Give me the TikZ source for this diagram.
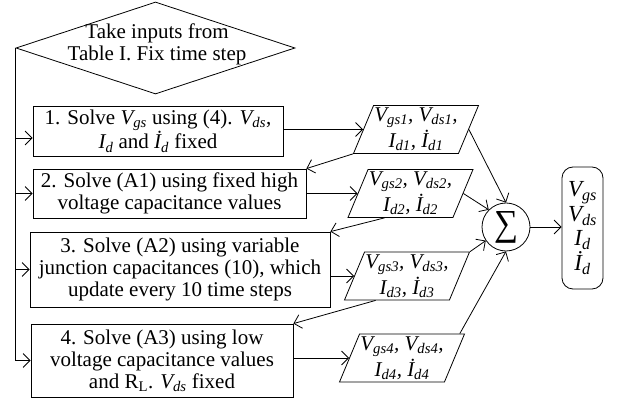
\documentclass[tikz,border=0pt]{standalone}
\usepackage{fontspec}
\setmainfont{Liberation Serif}
\usetikzlibrary{shapes.geometric,arrows.meta,calc}

\newcommand\sig[2]{\textit{#1\textsubscript{#2}}}

\begin{document}
\begin{tikzpicture}[x=1pt,y=-1pt,line width=0.8pt,
    >={Straight Barb[length=7pt,width=14pt]},
    every node/.style={font=\fontsize{21}{22}\selectfont},
    decision/.style={draw, diamond, inner sep=0pt, minimum width=279pt, minimum height=92pt},
    stepbox/.style={draw, rectangle, inner sep=0pt, align=center},
    data/.style={draw, trapezium, trapezium left angle=65, trapezium right angle=115,
        trapezium stretches body, inner sep=0pt, minimum width=125pt, minimum height=48pt,
        align=center, font=\fontsize{21}{26}\selectfont\itshape},
    result/.style={draw, rectangle, rounded corners=11pt, inner sep=0pt, align=center,
        minimum width=41pt, minimum height=122pt, font=\fontsize{23}{24.5}\selectfont\itshape}]
    \useasboundingbox (0,0) rectangle (625,403);

    % start
    \node[decision] (start) at (155.5,48) {};
    \node[align=center] (starttext) at (157,44) {Take inputs from\\Table I. Fix time step};

    % solver steps
    \node[stepbox, minimum width=250pt, minimum height=50pt] (b1) at (158,131)
        {1. Solve \sig{V}{gs} using (4). \sig{V}{ds},\\ \sig{I}{d} and \sig{\.I}{d} fixed};
    \node[stepbox, minimum width=273pt, minimum height=49pt] (b2) at (169.5,193.5)
        {2. Solve (A1) using fixed high\\ voltage capacitance values};
    \node[stepbox, minimum width=300pt, minimum height=75pt] (b3) at (180,269.5)
        {3. Solve (A2) using variable\\ junction capacitances (10), which\\ update every 10 time steps};
    \node[stepbox, minimum width=262pt, minimum height=73pt] (b4) at (162,360.5)
        {4. Solve (A3) using low\\ voltage capacitance values\\ and R\textsubscript{L}. \sig{V}{ds} fixed};

    % results of each step
    \node[data] (p1) at (416,129.5) {V\textsubscript{gs1}, V\textsubscript{ds1},\\ I\textsubscript{d1}, \.I\textsubscript{d1}};
    \node[data] (p2) at (410.5,193.5) {V\textsubscript{gs2}, V\textsubscript{ds2},\\ I\textsubscript{d2}, \.I\textsubscript{d2}};
    \node[data] (p3) at (407,276) {V\textsubscript{gs3}, V\textsubscript{ds3},\\ I\textsubscript{d3}, \.I\textsubscript{d3}};
    \node[data] (p4) at (402,358) {V\textsubscript{gs4}, V\textsubscript{ds4},\\ I\textsubscript{d4}, \.I\textsubscript{d4}};

    % sum and output
    \node[draw, circle, inner sep=0pt, minimum size=48pt] (s) at (506,227) {\resizebox{24pt}{24pt}{∑}};
    \node[result] (out) at (582.5,228) {V\textsubscript{gs}\\ V\textsubscript{ds}\\ I\textsubscript{d}\\ \.I\textsubscript{d}};

    % bus from the start
    \draw[->] (start.west) |- (b4.west);
    \draw[->] ([yshift=-7pt]b1.west -| start.west) -- ([yshift=-7pt]b1.west);
    \foreach \b in {b2,b3}
        \draw[->] (start.west |- \b.west) -- (\b.west);

    % steps to results
    \draw[->] (p1.left side -| b1.east) -- (p1.left side);
    \draw[->] (b2.east) -- (p2.left side);
    \draw[->] (p3.left side -| b3.east) -- (p3.left side);
    \draw[->] (p4.left side -| b4.east) -- (p4.left side);

    % results fed to the next step
    \draw[->] (p1.bottom left corner) -- (b2.north east);
    \draw[->] ($(p2.bottom left corner)!0.35!(p2.bottom right corner)$) -- (b3.north east);
    \draw[->] ($(p3.bottom left corner)!0.3!(p3.bottom right corner)$) -- (b4.north east);

    % results into the sum
    \draw[->] (p1.right side) -- (s.north);
    \draw[->] (p2.right side) -- (s.135);
    \draw[->] (p3.top right corner) -- (s.214);
    \draw[->] ($(p4.top left corner)!0.95!(p4.top right corner)$) -- (s.south);
    \draw[->] (s.east) -- (out.west |- s.east);
\end{tikzpicture}
\end{document}
